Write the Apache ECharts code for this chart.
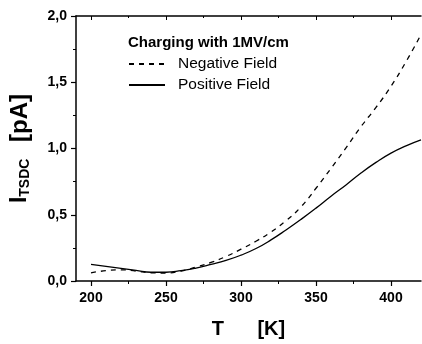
<!DOCTYPE html>
<html><head><meta charset="utf-8">
<script src="https://cdn.jsdelivr.net/npm/echarts@6/dist/echarts.min.js"></script>
<style>html,body{margin:0;padding:0;background:#fff}#c{width:422px;height:344px}</style>
</head><body><div id="c"></div>
<script>
var temps = [200,210,220,230,240,250,260,270,280,290,300,310,320,330,340,350,360,370,380,390,400,410,420];
var positiveField = [0.125,0.11,0.095,0.08,0.066,0.066,0.078,0.098,0.125,0.155,0.195,0.245,0.31,0.385,0.465,0.55,0.64,0.725,0.815,0.895,0.965,1.02,1.065];
var negativeField = [0.062,0.078,0.084,0.075,0.062,0.06,0.075,0.105,0.14,0.185,0.24,0.30,0.37,0.455,0.56,0.70,0.85,1.005,1.165,1.31,1.47,1.655,1.86];
var seriesNames = ['Negative Field','Positive Field'];
var legendTitle = 'Charging with 1MV/cm';
var xMajorTicks = [200,250,300,350,400];
var xMinorTicks = [225,275,325,375];

function pairs(xs, ys){ return xs.map(function(x,i){return [x, ys[i]];}); }
var F = 'Liberation Sans, Arial, sans-serif';
var base = {type:'value', min:190, max:420, splitLine:{show:false}};
function ax(extra){ return Object.assign({}, base, extra); }
var chart = echarts.init(document.getElementById('c'));
chart.setOption({
  animation:false,
  backgroundColor:'#fff',
  title:{text:legendTitle, left:128, top:35, padding:0, textStyle:{fontFamily:F, fontSize:15, fontWeight:'bold', color:'#000'}},
  legend:{orient:'vertical', left:123, top:51, itemWidth:36, itemHeight:10, itemGap:5,
    itemStyle:{opacity:0},
    textStyle:{fontFamily:F, fontSize:15.5, color:'#000', padding:[0,0,0,8]},
    data:seriesNames},
  grid:{left:76, right:1, top:16, bottom:60},
  xAxis:[
   ax({position:'bottom',
    axisLine:{lineStyle:{color:'#000', width:1.5}},
    axisTick:{inside:false, length:5, customValues:xMajorTicks, lineStyle:{color:'#000', width:1.2}},
    axisLabel:{fontFamily:F, fontSize:14, fontWeight:'bold', color:'#000', margin:10, customValues:xMajorTicks},
    name:'T      [K]', nameLocation:'middle', nameGap:38,
    nameTextStyle:{fontFamily:F, fontSize:20, fontWeight:'bold', color:'#000'}}),
   ax({position:'top',
    axisLine:{lineStyle:{color:'#000', width:1.5}},
    axisTick:{inside:true, length:4, customValues:xMajorTicks, lineStyle:{color:'#000'}},
    axisLabel:{show:false}}),
   ax({position:'bottom', offset:0,
    axisLine:{show:false},
    axisTick:{inside:false, length:3, customValues:xMinorTicks, lineStyle:{color:'#000'}},
    axisLabel:{show:false}}),
   ax({position:'top', offset:0,
    axisLine:{show:false},
    axisTick:{inside:true, length:2, customValues:xMinorTicks, lineStyle:{color:'#000'}},
    axisLabel:{show:false}})
  ],
  yAxis:[{type:'value', min:0, max:2, interval:0.5,
    axisLine:{show:true, lineStyle:{color:'#000', width:1.5}},
    axisTick:{show:true, inside:false, length:5, lineStyle:{color:'#000', width:1.2}},
    minorTick:{show:true, splitNumber:2, length:3, lineStyle:{color:'#000'}},
    splitLine:{show:false},
    axisLabel:{fontFamily:F, fontSize:14, fontWeight:'bold', color:'#000', margin:9,
      formatter:function(v){return v.toFixed(1).replace('.',',');}},
    name:'{a|I}{b|TSDC}     {c|[pA]}', nameLocation:'middle', nameGap:44,
    nameTextStyle:{rich:{
      a:{fontFamily:F, fontSize:23, fontWeight:'bold', color:'#000'},
      c:{fontFamily:F, fontSize:24, fontWeight:'bold', color:'#000'},
      b:{fontFamily:F, fontSize:14, fontWeight:'bold', color:'#000', verticalAlign:'bottom', padding:[10,0,0,0]}}}}],
  series:[
    {name:seriesNames[0], type:'line', data:pairs(temps, negativeField), smooth:true, showSymbol:false, symbol:'none',
     lineStyle:{color:'#000', width:1.3, type:[5,5]}, itemStyle:{color:'#000'}},
    {name:seriesNames[1], type:'line', data:pairs(temps, positiveField), smooth:true, showSymbol:false, symbol:'none',
     lineStyle:{color:'#000', width:1.3}, itemStyle:{color:'#000'}}
  ]
});
</script></body></html>
